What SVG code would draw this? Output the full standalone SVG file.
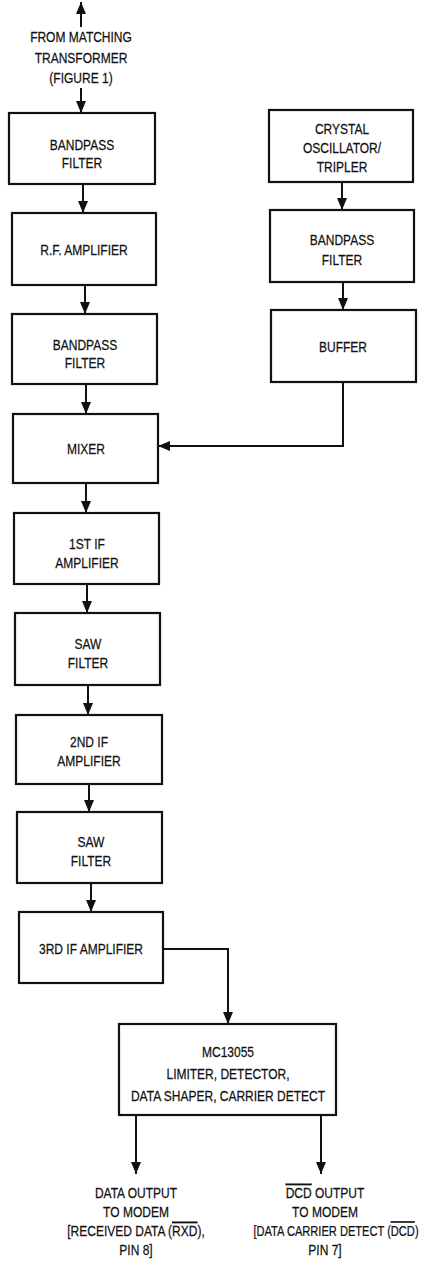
<svg xmlns="http://www.w3.org/2000/svg" width="427" height="1262" viewBox="0 0 427 1262">
<style>
.bx{fill:#fff;stroke:#111;stroke-width:2.2}
.ln{fill:none;stroke:#111;stroke-width:2}
.t{font-family:"Liberation Sans",Arial,sans-serif;font-size:15px;text-anchor:middle;fill:#111;stroke:#111;stroke-width:0.25}
.ov{text-decoration:overline}
</style>
<defs>
<marker id="ah" markerUnits="userSpaceOnUse" markerWidth="12" markerHeight="10" refX="12" refY="5" orient="auto" viewBox="0 0 12 10">
<path d="M0,0 L12,5 L0,10 z" fill="#111"/>
</marker>
</defs>
<rect width="427" height="1262" fill="#fff"/>

<g id="connectors">
<line class="ln" x1="81" y1="27" x2="81" y2="2" marker-end="url(#ah)"/>
<line class="ln" x1="81" y1="88" x2="81" y2="113" marker-end="url(#ah)"/>
<line class="ln" x1="83" y1="184" x2="83" y2="213" marker-end="url(#ah)"/>
<line class="ln" x1="85" y1="285" x2="85" y2="314" marker-end="url(#ah)"/>
<line class="ln" x1="86" y1="384" x2="86" y2="414" marker-end="url(#ah)"/>
<line class="ln" x1="86" y1="483" x2="86" y2="513" marker-end="url(#ah)"/>
<line class="ln" x1="87" y1="584" x2="87" y2="613" marker-end="url(#ah)"/>
<line class="ln" x1="88" y1="685" x2="88" y2="715" marker-end="url(#ah)"/>
<line class="ln" x1="89" y1="784" x2="89" y2="812" marker-end="url(#ah)"/>
<line class="ln" x1="91" y1="883" x2="91" y2="912" marker-end="url(#ah)"/>
<line class="ln" x1="342" y1="182" x2="342" y2="210" marker-end="url(#ah)"/>
<line class="ln" x1="343" y1="282" x2="343" y2="310" marker-end="url(#ah)"/>
<polyline class="ln" points="343,382 343,446 158,446" marker-end="url(#ah)"/>
<polyline class="ln" points="163,949 228,949 228,1024" marker-end="url(#ah)"/>
<line class="ln" x1="136" y1="1115" x2="136" y2="1174" marker-end="url(#ah)"/>
<line class="ln" x1="321" y1="1115" x2="321" y2="1174" marker-end="url(#ah)"/>
</g>

<g id="input-label">
<g transform="translate(81 0) scale(0.8 1)">
<text class="t" x="0" y="42">FROM MATCHING</text>
<text class="t" x="0" y="63">TRANSFORMER</text>
<text class="t" x="0" y="83">(FIGURE 1)</text>
</g>
</g>

<g id="bandpass1">
<rect class="bx" x="9" y="113" width="146" height="71"/>
<g transform="translate(82 0) scale(0.8 1)">
<text class="t" x="0" y="150">BANDPASS</text>
<text class="t" x="0" y="168">FILTER</text>
</g>
</g>
<g id="rf-amp">
<rect class="bx" x="12" y="213" width="144" height="72"/>
<g transform="translate(84 0) scale(0.8 1)">
<text class="t" x="0" y="255">R.F. AMPLIFIER</text>
</g>
</g>
<g id="bandpass2">
<rect class="bx" x="12" y="314" width="145" height="70"/>
<g transform="translate(85 0) scale(0.8 1)">
<text class="t" x="0" y="350">BANDPASS</text>
<text class="t" x="0" y="368">FILTER</text>
</g>
</g>
<g id="mixer">
<rect class="bx" x="13" y="414" width="145" height="69"/>
<g transform="translate(86 0) scale(0.8 1)">
<text class="t" x="0" y="454">MIXER</text>
</g>
</g>
<g id="if1">
<rect class="bx" x="14" y="513" width="145" height="71"/>
<g transform="translate(87 0) scale(0.8 1)">
<text class="t" x="0" y="549">1ST IF</text>
<text class="t" x="0" y="568">AMPLIFIER</text>
</g>
</g>
<g id="saw1">
<rect class="bx" x="15" y="613" width="145" height="72"/>
<g transform="translate(88 0) scale(0.8 1)">
<text class="t" x="0" y="649">SAW</text>
<text class="t" x="0" y="668">FILTER</text>
</g>
</g>
<g id="if2">
<rect class="bx" x="16" y="715" width="146" height="69"/>
<g transform="translate(89 0) scale(0.8 1)">
<text class="t" x="0" y="747">2ND IF</text>
<text class="t" x="0" y="766">AMPLIFIER</text>
</g>
</g>
<g id="saw2">
<rect class="bx" x="17" y="812" width="145" height="71"/>
<g transform="translate(91 0) scale(0.8 1)">
<text class="t" x="0" y="847">SAW</text>
<text class="t" x="0" y="866">FILTER</text>
</g>
</g>
<g id="if3">
<rect class="bx" x="19" y="912" width="144" height="71"/>
<g transform="translate(91 0) scale(0.8 1)">
<text class="t" x="0" y="954">3RD IF AMPLIFIER</text>
</g>
</g>

<g id="crystal">
<rect class="bx" x="269" y="110" width="144" height="72"/>
<g transform="translate(342 0) scale(0.8 1)">
<text class="t" x="0" y="134">CRYSTAL</text>
<text class="t" x="0" y="153">OSCILLATOR/</text>
<text class="t" x="0" y="172">TRIPLER</text>
</g>
</g>
<g id="bandpass-r">
<rect class="bx" x="270" y="210" width="144" height="72"/>
<g transform="translate(342 0) scale(0.8 1)">
<text class="t" x="0" y="245">BANDPASS</text>
<text class="t" x="0" y="265">FILTER</text>
</g>
</g>
<g id="buffer">
<rect class="bx" x="271" y="310" width="145" height="72"/>
<g transform="translate(343 0) scale(0.8 1)">
<text class="t" x="0" y="352">BUFFER</text>
</g>
</g>

<g id="mc13055">
<rect class="bx" x="119" y="1024" width="217" height="91"/>
<g transform="translate(228 0) scale(0.8 1)">
<text class="t" x="0" y="1057">MC13055</text>
<text class="t" x="0" y="1079">LIMITER, DETECTOR,</text>
<text class="t" x="0" y="1101">DATA SHAPER, CARRIER DETECT</text>
</g>
</g>

<g id="out-data">
<g transform="translate(136 0) scale(0.8 1)">
<text class="t" x="0" y="1198">DATA OUTPUT</text>
<text class="t" x="0" y="1217">TO MODEM</text>
<text class="t" x="0" y="1236">[RECEIVED DATA (<tspan class="ov">RXD</tspan>),</text>
<text class="t" x="0" y="1255">PIN 8]</text>
</g>
</g>
<g id="out-dcd">
<g transform="translate(325 0) scale(0.8 1)">
<text class="t" x="0" y="1198"><tspan class="ov">DCD</tspan> OUTPUT</text>
<text class="t" x="0" y="1217">TO MODEM</text>
<text class="t" x="0" y="1255">PIN 7]</text>
</g>
<g transform="translate(336 0) scale(0.74 1)">
<text class="t" x="0" y="1236">[DATA CARRIER DETECT (<tspan class="ov">DCD</tspan>)</text>
</g>
</g>
</svg>
